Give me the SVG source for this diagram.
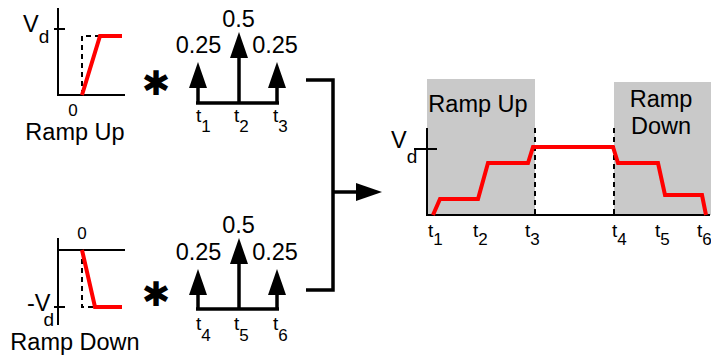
<svg xmlns="http://www.w3.org/2000/svg" width="711" height="359" viewBox="0 0 711 359">
<style>
text{font-family:"Liberation Sans",Arial,sans-serif;fill:#000}
.big{font-size:23.5px}
.zero{font-size:17px}
.tl{font-size:19px}
.sub{font-size:19px}
.axis{stroke:#000;stroke-width:2;fill:none}
.dash{stroke:#000;stroke-width:2;stroke-dasharray:5 4;fill:none}
.red{stroke:#ff0000;stroke-width:4;fill:none}
.imp{stroke:#000;stroke-width:3.5;fill:none;marker-end:url(#head)}
.line{stroke:#000;stroke-width:3.5;fill:none}
.shade{fill:#c9c9c9}
.ast{font-family:"DejaVu Sans",sans-serif;font-size:34px;font-weight:bold}
</style>
<defs>
<marker id="head" markerUnits="userSpaceOnUse" viewBox="0 0 26 18" markerWidth="26" markerHeight="18" refX="16" refY="9" orient="auto">
<path d="M0,0 L26,9 L0,18 Z" fill="#000"/>
</marker>
</defs>

<g id="ramp-up-plot">
<line class="axis" x1="58" y1="8" x2="58" y2="95"/>
<line class="axis" x1="57" y1="95" x2="125" y2="95"/>
<line class="axis" x1="54" y1="29" x2="65" y2="29"/>
<polyline class="dash" points="82,95 82,36 100,36"/>
<polyline class="red" points="82,95 100,36 122,36"/>
<text class="big" x="23" y="32">V<tspan class="sub" dy="11">d</tspan></text>
<text class="zero" x="73" y="116" text-anchor="middle">0</text>
<text class="big" x="75" y="140" text-anchor="middle">Ramp Up</text>
</g>

<g id="ramp-down-plot">
<line class="axis" x1="58" y1="238" x2="58" y2="325"/>
<line class="axis" x1="57" y1="250" x2="125" y2="250"/>
<line class="axis" x1="54" y1="307" x2="65" y2="307"/>
<polyline class="dash" points="82,250 82,307 95,307"/>
<polyline class="red" points="82,250 95,307 122,307"/>
<text class="big" x="27" y="311">-V<tspan class="sub" dx="-7" dy="15">d</tspan></text>
<text class="zero" x="82" y="239" text-anchor="middle">0</text>
<text class="big" x="75" y="350" text-anchor="middle">Ramp Down</text>
</g>

<g id="conv-top">
<text class="ast" x="156" y="95" text-anchor="middle">✱</text>
</g>
<g id="conv-bottom">
<text class="ast" x="156" y="306" text-anchor="middle">✱</text>
</g>

<g id="impulses-top">
<line class="line" x1="196" y1="103" x2="279" y2="103"/>
<line class="imp" x1="198" y1="104" x2="198" y2="72"/>
<line class="imp" x1="239" y1="104" x2="239" y2="42"/>
<line class="imp" x1="277" y1="104" x2="277" y2="72"/>
<text class="big" x="198.5" y="53" text-anchor="middle">0.25</text>
<text class="big" x="238.5" y="27" text-anchor="middle">0.5</text>
<text class="big" x="275" y="53" text-anchor="middle">0.25</text>
<text class="tl" x="196" y="122">t<tspan dy="10" font-size="17">1</tspan></text>
<text class="tl" x="234" y="122">t<tspan dy="10" font-size="17">2</tspan></text>
<text class="tl" x="273" y="122">t<tspan dy="10" font-size="17">3</tspan></text>
</g>

<g id="impulses-bottom">
<line class="line" x1="196" y1="309" x2="279" y2="309"/>
<line class="imp" x1="198" y1="310" x2="198" y2="279"/>
<line class="imp" x1="239" y1="310" x2="239" y2="248"/>
<line class="imp" x1="277" y1="310" x2="277" y2="279"/>
<text class="big" x="198.5" y="260" text-anchor="middle">0.25</text>
<text class="big" x="238.5" y="233" text-anchor="middle">0.5</text>
<text class="big" x="275" y="260" text-anchor="middle">0.25</text>
<text class="tl" x="196" y="330">t<tspan dy="11" font-size="17">4</tspan></text>
<text class="tl" x="234" y="330">t<tspan dy="11" font-size="17">5</tspan></text>
<text class="tl" x="273" y="330">t<tspan dy="11" font-size="17">6</tspan></text>
</g>

<g id="connectors">
<polyline class="line" points="306,80 333,80 333,290 306,290"/>
<line class="imp" x1="333" y1="192" x2="372" y2="192"/>
</g>

<g id="result-plot">
<rect class="shade" x="427" y="79" width="108" height="136"/>
<rect class="shade" x="614" y="82" width="97" height="133"/>
<line class="dash" x1="535" y1="128" x2="535" y2="215"/>
<line class="dash" x1="614" y1="128" x2="614" y2="215"/>
<line class="axis" x1="427" y1="128" x2="427" y2="216"/>
<line class="axis" x1="426" y1="215" x2="710" y2="215"/>
<line class="axis" x1="414" y1="149" x2="437" y2="149"/>
<polyline class="red" points="433,215 440,199 478,199 488,163 528,163 533,147 613,147 618,163 658,163 665,195 702,195 706,215"/>
<text class="big" x="478" y="112" text-anchor="middle">Ramp Up</text>
<text class="big" x="661" y="107" text-anchor="middle">Ramp</text>
<text class="big" x="661" y="134" text-anchor="middle">Down</text>
<text class="big" x="391" y="148">V<tspan class="sub" dy="15">d</tspan></text>
<text class="tl" x="428" y="237">t<tspan dy="8" font-size="17">1</tspan></text>
<text class="tl" x="473" y="237">t<tspan dy="8" font-size="17">2</tspan></text>
<text class="tl" x="525" y="237">t<tspan dy="8" font-size="17">3</tspan></text>
<text class="tl" x="612" y="237">t<tspan dy="8" font-size="17">4</tspan></text>
<text class="tl" x="655" y="237">t<tspan dy="8" font-size="17">5</tspan></text>
<text class="tl" x="697" y="237">t<tspan dy="8" font-size="17">6</tspan></text>
</g>
</svg>
